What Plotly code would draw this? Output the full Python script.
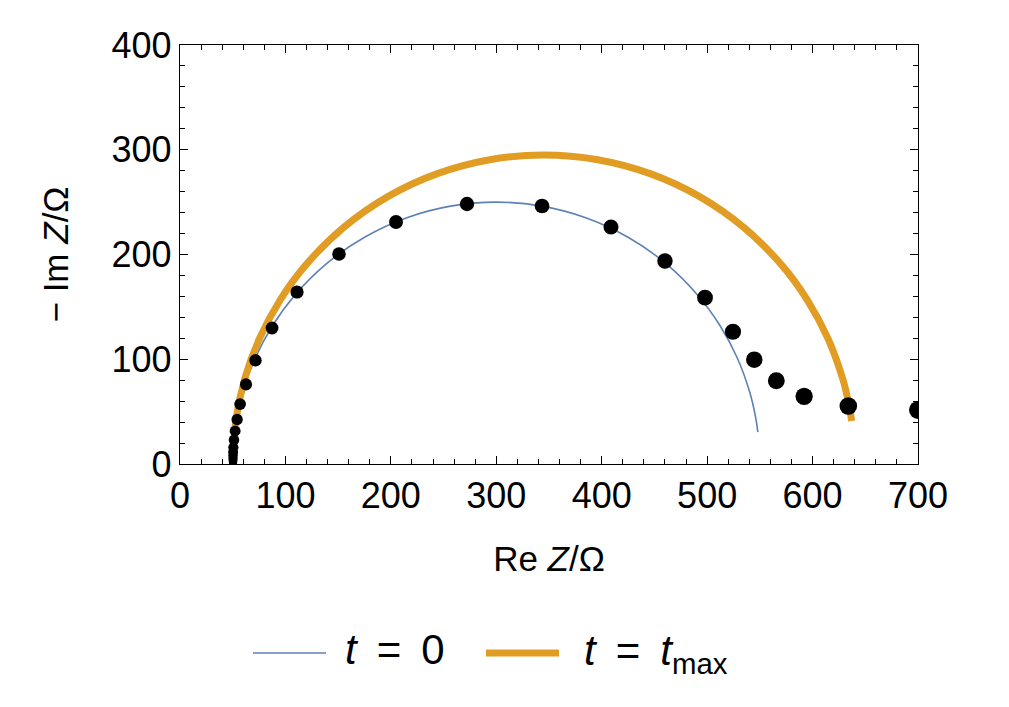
import numpy as np
import plotly.graph_objects as go

# measured impedance points (Re Z, -Im Z) in Ohm, high -> low frequency
meas_re = [50.3, 50.3, 50.3, 50.3, 50.3, 50.4, 50.6, 51.2, 52.3, 54.2, 57.0, 62.6,
           71.6, 87.3, 111.0, 150.8, 204.9, 272.2, 343.4, 408.8, 460.0, 498.0,
           524.5, 544.7, 565.6, 592.0, 633.9, 700.0]
meas_im = [1.0, 2.0, 3.5, 5.5, 8.0, 11.5, 16.0, 23.0, 31.5, 42.5, 57.2, 76.0,
           99.0, 129.8, 164.2, 200.5, 231.0, 248.2, 246.3, 226.3, 193.8, 158.8,
           126.3, 99.6, 79.5, 64.6, 55.4, 51.6]

# model curve at t = 0
t0_re = [50.0, 52.4, 59.7, 71.6, 88.0, 108.5, 139.3, 175.0, 214.5, 256.6, 300.0,
         343.4, 385.5, 425.0, 460.7, 491.5, 512.0, 528.4, 540.3, 546.2, 548.1]
t0_im = [0.0, 34.8, 68.9, 101.7, 132.5, 160.7, 191.5, 216.5, 234.9, 246.2, 250.0,
         246.2, 234.9, 216.5, 191.5, 160.7, 132.5, 101.7, 68.9, 43.4, 30.5]

# model curve at t = t_max
tmax_re = [50.0, 52.9, 61.4, 75.5, 94.8, 119.0, 155.4, 197.5, 244.1, 293.8, 345.0,
           396.2, 445.9, 492.5, 534.6, 571.0, 595.2, 614.5, 628.6, 633.5, 637.1]
tmax_im = [0.0, 41.1, 81.3, 120.0, 156.3, 189.6, 226.0, 255.5, 277.2, 290.5, 295.0,
           290.5, 277.2, 255.5, 226.0, 189.6, 156.3, 120.0, 81.3, 61.3, 41.1]

x_ticks = [0, 100, 200, 300, 400, 500, 600, 700]
y_ticks = [0, 100, 200, 300, 400]

BLUE = "#5E81B5"
ORANGE = "#E19C24"
FONT = "Liberation Sans"

fig = go.Figure()
fig.add_trace(go.Scatter(x=t0_re, y=t0_im, mode="lines", name="t = 0",
                         line=dict(color=BLUE, width=1.6, shape="spline"),
                         showlegend=False, hoverinfo="skip"))
fig.add_trace(go.Scatter(x=tmax_re, y=tmax_im, mode="lines", name="t = t_max",
                         line=dict(color=ORANGE, width=7, shape="spline"),
                         showlegend=False, hoverinfo="skip"))
sizes = np.linspace(8, 18, len(meas_re))
fig.add_trace(go.Scatter(x=meas_re, y=meas_im, mode="markers", name="data",
                         marker=dict(color="black", size=sizes, opacity=1,
                                     line=dict(width=0)),
                         showlegend=False))

W, H = 1009, 707
OFF = 8  # page offset of the plot div
# target plot-area edges in screen pixels
X0, X1, Y0, Y1 = 180, 918, 45, 464
L, T = X0 - OFF, Y0 - OFF
R, B = W - (X1 - OFF), H - (Y1 - OFF)
pw, ph = X1 - X0, Y1 - Y0

def px(xs):
    return (xs - X0) / pw

def py(ys):
    return (Y1 - ys) / ph

SP = " \u2009"  # slightly wider spacing around "="

# manual legend
leg_y = py(653)
fig.add_shape(type="line", xref="paper", yref="paper", x0=px(253), x1=px(326),
              y0=leg_y, y1=leg_y, line=dict(color=BLUE, width=1.6))
fig.add_shape(type="line", xref="paper", yref="paper", x0=px(486), x1=px(559),
              y0=leg_y, y1=leg_y, line=dict(color=ORANGE, width=7))
fig.add_annotation(xref="paper", yref="paper", x=px(343), y=py(649), xanchor="left",
                   yanchor="middle", showarrow=False,
                   text="<i>t</i>" + SP + "=" + SP + "0",
                   font=dict(family=FONT, size=42, color="black"))
fig.add_annotation(xref="paper", yref="paper", x=px(582), y=py(653), xanchor="left",
                   yanchor="middle", showarrow=False,
                   text="<i>t</i>" + SP + "=" + SP + "<i>t</i><sub>max</sub>",
                   font=dict(family=FONT, size=42, color="black"))

axis_common = dict(
    showline=True, linecolor="black", linewidth=1.3, mirror="ticks",
    ticks="inside", ticklen=8, tickwidth=1.1, tickcolor="black",
    showgrid=False, zeroline=False,
    tickfont=dict(family=FONT, size=36, color="black"),
    minor=dict(ticks="inside", ticklen=4.5, tickwidth=1.0, tickcolor="black",
               dtick=20, showgrid=False),
)

fig.update_layout(
    width=W, height=H,
    margin=dict(l=L, r=R, t=T, b=B),
    paper_bgcolor="white", plot_bgcolor="white",
    font=dict(family=FONT, color="black"),
    xaxis=dict(range=[0, 700], tickvals=x_ticks, ticktext=[str(v) for v in x_ticks],
               title=dict(text="Re <i>Z</i>/Ω", font=dict(family=FONT, size=35),
                          standoff=31),
               **axis_common),
    yaxis=dict(range=[0, 400], tickvals=y_ticks, ticktext=[str(v) for v in y_ticks],
               title=dict(text="− Im <i>Z</i>/Ω", font=dict(family=FONT, size=35),
                          standoff=32),
               **axis_common),
)

fig.write_html("out.html")
